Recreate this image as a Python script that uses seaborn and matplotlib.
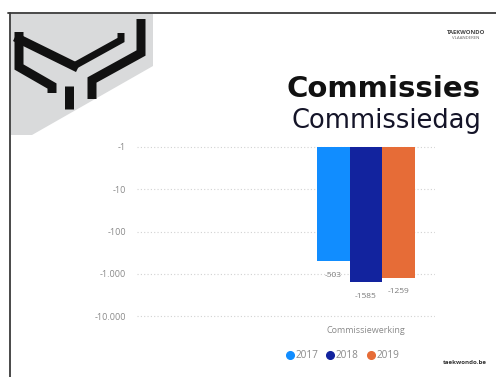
import matplotlib
matplotlib.use("Agg")
import matplotlib.pyplot as plt
from matplotlib.lines import Line2D
from matplotlib.patches import Polygon
from matplotlib.ticker import FixedLocator, FixedFormatter, NullLocator
import seaborn as sns
import pandas as pd

# ---- data -------------------------------------------------------------
categories = ["Commissiewerking"]
years = ["2017", "2018", "2019"]
values = [-503, -1585, -1259]
year_colors = ["#118DFF", "#12239E", "#E66C37"]
tick_values = [-1, -10, -100, -1000, -10000]
tick_labels = ["-1", "-10", "-100", "-1.000", "-10.000"]

df = pd.DataFrame({
    "categorie": categories * len(years),
    "jaar": years,
    "waarde": values,
})
df["omvang"] = -df["waarde"]

W, H = 496, 377
sns.set_theme(style="white")
plt.rcParams["font.family"] = ["Open Sans", "DejaVu Sans"]

fig = plt.figure(figsize=(W / 100, H / 100), dpi=100)
fig.patch.set_facecolor("white")


def fx(px):
    return px / W


def fy(py):
    return 1 - py / H


# ---- slide frame and logo --------------------------------------------
fig.add_artist(Line2D([fx(8), fx(W)], [fy(13), fy(13)], color="#3a3a3a", lw=1.3))
fig.add_artist(Line2D([fx(9.5), fx(9.5)], [fy(13), fy(H)], color="#3a3a3a", lw=1.3))

grey = Polygon([(fx(11), fy(14)), (fx(153), fy(14)), (fx(153), fy(66)),
                (fx(32), fy(135)), (fx(11), fy(135))],
               closed=True, transform=fig.transFigure, facecolor="#d9dadb",
               edgecolor="none")
fig.add_artist(grey)


def logo_stroke(pts, width_px=9):
    xs = [fx(x) for x, _ in pts]
    ys = [fy(y) for _, y in pts]
    fig.add_artist(Line2D(xs, ys, color="#111111", lw=width_px * 0.72,
                          solid_capstyle="butt", solid_joinstyle="miter"))


logo_stroke([(19, 32), (19, 67), (52, 86), (52, 93)])
logo_stroke([(15, 37), (78, 68)])
logo_stroke([(74, 66), (121, 40), (121, 33)], width_px=7)
logo_stroke([(141, 19), (141, 53), (92, 80), (92, 99)])
logo_stroke([(69, 86), (69, 109)])

fig.text(fx(466), fy(32), "TAEKWONDO", fontsize=4.2, color="#444444",
         ha="center", va="center", fontweight="bold")
fig.text(fx(466), fy(38), "VLAANDEREN", fontsize=3.2, color="#666666",
         ha="center", va="center")
fig.text(fx(465), fy(363), "taekwondo.be", fontsize=4.4, color="#333333",
         ha="center", va="center", fontweight="bold")

# ---- titles -------------------------------------------------------------
fig.text(fx(481), fy(97), "Commissies", fontsize=21, fontweight="bold",
         color="#111111", ha="right", va="baseline", family="DejaVu Sans")
fig.text(fx(481), fy(128), "Commissiedag", fontsize=18.5, color="#141428",
         ha="right", va="baseline", family="DejaVu Sans")

# ---- chart ----------------------------------------------------------------
px_per_decade = 42.25
top_px = 147 - 0.1 * px_per_decade
bot_px = 316 + 0.1 * px_per_decade
ax_left, ax_right = 137, 435
ax = fig.add_axes([fx(ax_left), fy(bot_px), (ax_right - ax_left) / W,
                   (bot_px - top_px) / H])
ax.set_facecolor("none")

sns.barplot(data=df, x="categorie", y="omvang", hue="jaar",
            palette=year_colors, width=0.8, gap=0, saturation=1,
            errorbar=None, legend=False, ax=ax)

ax.set_yscale("log")
ax.set_ylim(10 ** 4.1, 10 ** -0.1)

# bars hang from the -1 line down to their value
for patch in ax.patches:
    h = patch.get_height()
    patch.set_y(1)
    patch.set_height(h - 1)
    patch.set_linewidth(0)

unit_px = 98 / 0.8
ax.set_xlim(-(366 - ax_left) / unit_px, (ax_right - 366) / unit_px)

mags = [-v for v in tick_values]
ax.yaxis.set_major_locator(FixedLocator(mags))
ax.yaxis.set_major_formatter(FixedFormatter(tick_labels))
ax.yaxis.set_minor_locator(NullLocator())
ax.tick_params(axis="y", length=0, pad=8, labelsize=6.5, labelcolor="#8a8a8a")
ax.tick_params(axis="x", length=0, pad=4, labelsize=6.5, labelcolor="#8a8a8a")
ax.grid(axis="y", linestyle=(0, (1, 2)), color="#d2d2d2", lw=0.8)
ax.grid(axis="x", visible=False)
ax.set_axisbelow(True)
for s in ax.spines.values():
    s.set_visible(False)
ax.set_xlabel("")
ax.set_ylabel("")

# data labels under each bar
for patch, v in zip(ax.patches, values):
    cx = patch.get_x() + patch.get_width() / 2
    ax.annotate(f"{v}", (cx, -v), xytext=(0, -7.5), textcoords="offset points",
                ha="center", va="top", fontsize=6, color="#7a7a7a")

# legend with round markers
handles = [Line2D([], [], marker="o", linestyle="none", markersize=5.5,
                  markerfacecolor=c, markeredgecolor=c) for c in year_colors]
fig.legend(handles, years, loc="center", bbox_to_anchor=(fx(342), fy(356)),
           ncol=3, frameon=False, handletextpad=0.05, columnspacing=0.7,
           handlelength=1.0, fontsize=7.2, labelcolor="#8a8a8a",
           borderaxespad=0, borderpad=0)

fig.savefig("out.png", dpi=100, facecolor="white")
